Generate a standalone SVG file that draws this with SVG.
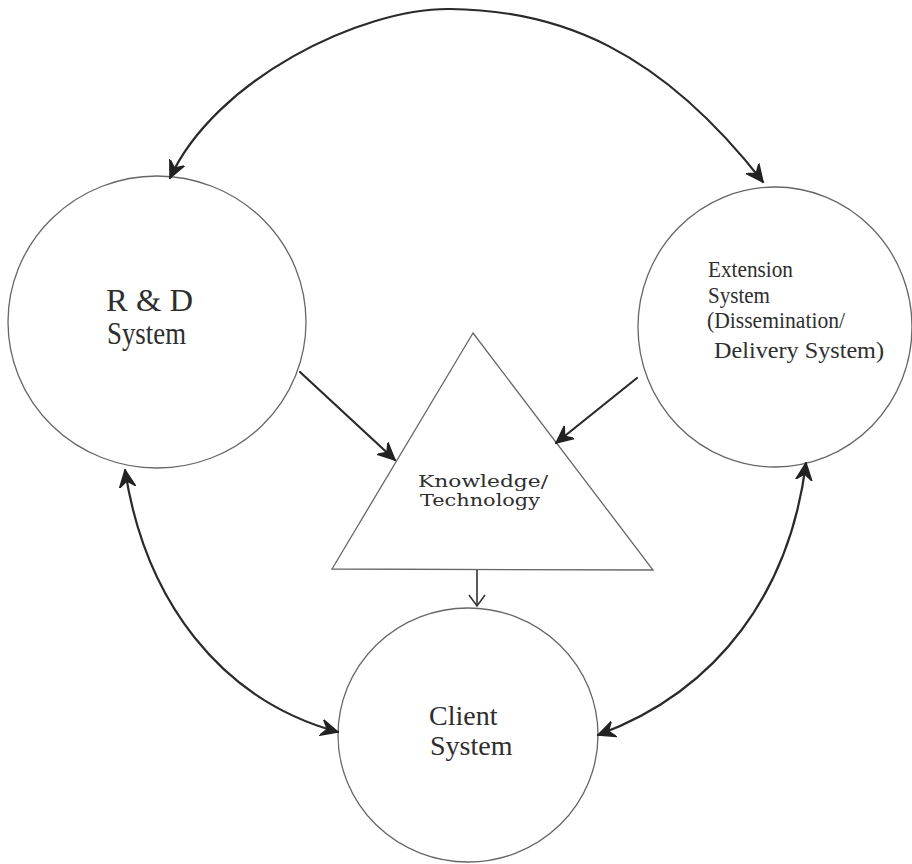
<svg xmlns="http://www.w3.org/2000/svg" width="912" height="864" viewBox="0 0 912 864">
<style>
.node{fill:#fff;stroke:#666;stroke-width:1.3}
.conn{fill:none;stroke:#2a2a2a;stroke-width:2.2;stroke-linecap:round}
.thin{fill:none;stroke:#333;stroke-width:1.6}
.serif{font-family:"Liberation Serif","Times New Roman",serif;fill:#2e2e2e}
.kt{font-family:"DejaVu Serif","Liberation Serif",serif;fill:#2e2e2e}
</style>
<defs>
<marker id="bold" markerUnits="userSpaceOnUse" markerWidth="20" markerHeight="20" refX="17" refY="8" orient="auto-start-reverse" viewBox="0 0 20 16">
<path d="M0,0 L17,8 L0,16 L6,8 Z" fill="#222" stroke="#222" stroke-width="1.5" stroke-linejoin="round"/>
</marker>
<marker id="open" markerUnits="userSpaceOnUse" markerWidth="16" markerHeight="20" refX="12" refY="9" orient="auto" viewBox="0 0 16 18">
<path d="M1,1 L12,9 L1,17" fill="none" stroke="#333" stroke-width="1.6"/>
</marker>
</defs>
<rect width="912" height="864" fill="#fff"/>
<g id="rd">
<ellipse class="node" cx="157" cy="322" rx="149" ry="146"/>
<text class="serif" x="106" y="311" font-size="32" textLength="87" lengthAdjust="spacingAndGlyphs">R &amp; D</text>
<text class="serif" x="107" y="344" font-size="32" textLength="79" lengthAdjust="spacingAndGlyphs">System</text>
</g>
<g id="extension">
<ellipse class="node" cx="775" cy="327" rx="137" ry="140"/>
<text class="serif" x="708" y="277" font-size="23" textLength="85" lengthAdjust="spacingAndGlyphs">Extension</text>
<text class="serif" x="708" y="303" font-size="23" textLength="62" lengthAdjust="spacingAndGlyphs">System</text>
<text class="serif" x="707" y="328" font-size="23" textLength="138" lengthAdjust="spacingAndGlyphs">(Dissemination/</text>
<text class="serif" x="714" y="358" font-size="23" textLength="170" lengthAdjust="spacingAndGlyphs">Delivery System)</text>
</g>
<g id="knowledge">
<polygon class="node" points="473,333 332,569 653,570"/>
<text class="kt" x="418" y="487" font-size="17" textLength="130" lengthAdjust="spacingAndGlyphs">Knowledge/</text>
<text class="kt" x="420" y="506" font-size="17" textLength="120" lengthAdjust="spacingAndGlyphs">Technology</text>
</g>
<g id="client">
<ellipse class="node" cx="468" cy="735" rx="130" ry="127"/>
<text class="serif" x="429" y="725" font-size="28">Client</text>
<text class="serif" x="430" y="755" font-size="28">System</text>
</g>
<g id="connectors">
<path class="conn" d="M170,178 C215,80 360,8 450,9 C560,10 660,50 763,182" marker-start="url(#bold)" marker-end="url(#bold)"/>
<path class="conn" d="M300,372 L395,460" marker-end="url(#bold)"/>
<path class="conn" d="M637,378 L556,443" marker-end="url(#bold)"/>
<path class="thin" d="M477,570 L477,606" marker-end="url(#open)"/>
<path class="conn" d="M125,470 C145,600 220,700 338,732" marker-start="url(#bold)" marker-end="url(#bold)"/>
<path class="conn" d="M806,463 C790,590 720,690 598,735" marker-start="url(#bold)" marker-end="url(#bold)"/>
</g>
</svg>
